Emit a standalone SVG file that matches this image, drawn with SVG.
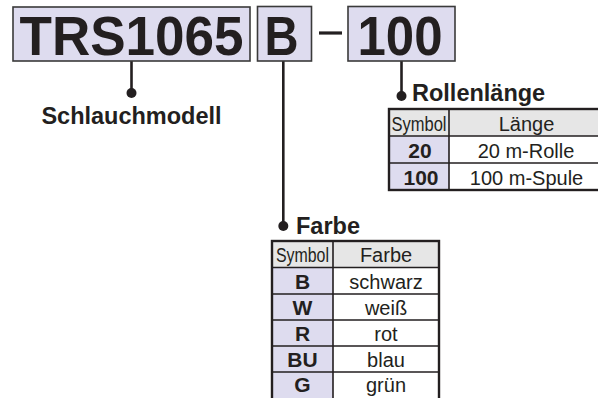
<svg xmlns="http://www.w3.org/2000/svg" width="598" height="398" viewBox="0 0 598 398">
<style>
text{font-family:"Liberation Sans",Arial,Helvetica,sans-serif;fill:#231f20}
.big{font-size:56px;font-weight:bold}
.lbl{font-size:23.5px;font-weight:bold}
.cell{font-size:20px}
.sym{font-size:21px;font-weight:bold}
.box{fill:#dedcef;stroke:#3a3a3a;stroke-width:1.6}
.conn{stroke:#231f20;stroke-width:2.6;fill:none}
.dot{fill:#231f20}
.hdr{fill:#e6e6e6}
.sc{fill:#dedcef}
.wc{fill:#ffffff}
.grid{stroke:#231f20;stroke-width:1.6;fill:none}
.outer{stroke:#231f20;stroke-width:2.4;fill:none}
</style>
<g id="connectors">
<line class="conn" x1="131.5" y1="61" x2="131.5" y2="93"/>
<circle class="dot" cx="131.5" cy="93" r="5"/>
<line class="conn" x1="283.3" y1="61" x2="283.3" y2="226"/>
<circle class="dot" cx="283.3" cy="226" r="5"/>
<line class="conn" x1="401.5" y1="61" x2="401.5" y2="96"/>
<circle class="dot" cx="401.5" cy="96" r="5"/>
</g>
<g id="code-trs1065">
<rect class="box" x="13" y="7" width="237" height="54"/>
<text class="big" x="131.5" y="55" text-anchor="middle" textLength="224" lengthAdjust="spacingAndGlyphs">TRS1065</text>
</g>
<g id="code-b">
<rect class="box" x="257.5" y="6.5" width="54" height="54.5"/>
<text class="big" x="281.5" y="55" text-anchor="middle" textLength="34" lengthAdjust="spacingAndGlyphs">B</text>
</g>
<g id="dash">
<line x1="319" y1="33" x2="342" y2="33" stroke="#231f20" stroke-width="3.2"/>
</g>
<g id="code-100">
<rect class="box" x="348" y="6.5" width="107" height="54.5"/>
<text class="big" x="400" y="55" text-anchor="middle" textLength="85" lengthAdjust="spacingAndGlyphs">100</text>
</g>
<g id="label-schlauchmodell">
<text class="lbl" x="131.5" y="124" text-anchor="middle">Schlauchmodell</text>
</g>
<g id="label-rollenlaenge">
<text class="lbl" x="412" y="101">Rollenlänge</text>
</g>
<g id="table-rollenlaenge">
<rect class="hdr" x="389" y="109" width="215" height="27"/>
<rect class="sc" x="389" y="136" width="60" height="54"/>
<rect class="wc" x="449" y="136" width="155" height="54"/>
<path class="grid" d="M389,136H604M389,163H604M449,109V190"/>
<rect class="outer" x="389" y="109" width="215" height="81"/>
<text class="cell" x="419" y="131" text-anchor="middle" textLength="55" lengthAdjust="spacingAndGlyphs">Symbol</text>
<text class="cell" x="526.5" y="131" text-anchor="middle">Länge</text>
<text class="sym" x="420" y="157.5" text-anchor="middle">20</text>
<text class="cell" x="526" y="157.5" text-anchor="middle">20 m-Rolle</text>
<text class="sym" x="421" y="184.5" text-anchor="middle">100</text>
<text class="cell" x="526.5" y="184.5" text-anchor="middle">100 m-Spule</text>
</g>
<g id="label-farbe">
<text class="lbl" x="296" y="233.5">Farbe</text>
</g>
<g id="table-farbe">
<rect class="hdr" x="272" y="241" width="167" height="26.5"/>
<rect class="sc" x="272" y="267.5" width="61" height="140"/>
<rect class="wc" x="333" y="267.5" width="106" height="140"/>
<path class="grid" d="M272,267.5H439M272,294H439M272,320H439M272,346H439M272,372H439M333,241V408"/>
<rect class="outer" x="272" y="241" width="167" height="167"/>
<text class="cell" x="302.5" y="262" text-anchor="middle" textLength="53" lengthAdjust="spacingAndGlyphs">Symbol</text>
<text class="cell" x="386" y="262" text-anchor="middle">Farbe</text>
<text class="sym" x="302.5" y="288.5" text-anchor="middle">B</text>
<text class="cell" x="386" y="288.5" text-anchor="middle">schwarz</text>
<text class="sym" x="302.5" y="314.5" text-anchor="middle">W</text>
<text class="cell" x="386" y="314.5" text-anchor="middle">weiß</text>
<text class="sym" x="302.5" y="340.5" text-anchor="middle">R</text>
<text class="cell" x="386" y="340.5" text-anchor="middle">rot</text>
<text class="sym" x="302.5" y="366.5" text-anchor="middle">BU</text>
<text class="cell" x="386" y="366.5" text-anchor="middle">blau</text>
<text class="sym" x="302.5" y="392" text-anchor="middle">G</text>
<text class="cell" x="386" y="392" text-anchor="middle">grün</text>
</g>
</svg>
